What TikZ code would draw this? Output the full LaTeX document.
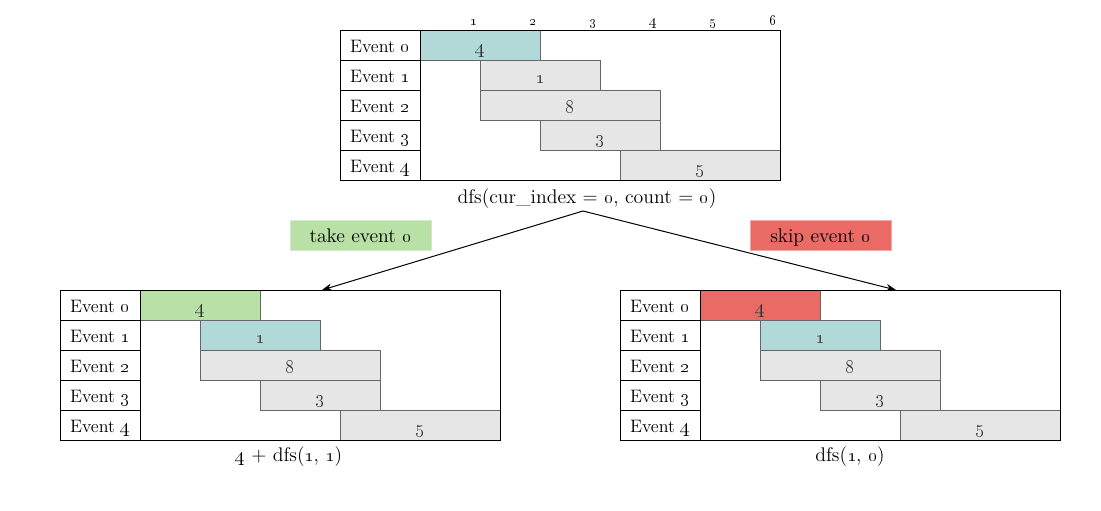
\documentclass[tikz,border=0pt]{standalone}
\usetikzlibrary{arrows.meta}
\definecolor{barteal}{HTML}{B1D9D8}
\definecolor{bargrey}{HTML}{E6E6E6}
\definecolor{barline}{HTML}{666666}
\definecolor{bargreen}{HTML}{B9E0A5}
\definecolor{barred}{HTML}{EA6B66}
\definecolor{numtext}{HTML}{333333}
\definecolor{greenedge}{HTML}{D5E8D4}
\definecolor{rededge}{HTML}{F4A9A6}
\newcommand\osn[1]{\oldstylenums{#1}}
\tikzset{
  frame/.style={draw=black, line width=0.75pt, minimum width=330pt, minimum height=112.5pt, inner sep=0pt},
  labcell/.style={draw=black, line width=0.75pt, fill=white, minimum width=60pt, minimum height=22.5pt,
     inner sep=0pt, text height=11.5pt, text depth=1pt, font=\fontsize{13.5}{15}\selectfont},
  bar/.style={draw=barline, line width=0.75pt, fill=bargrey, minimum height=22.5pt, inner sep=0pt,
     text height=14pt, text depth=1.2pt, text=numtext, font=\fontsize{15.5}{17}\selectfont},
  tick/.style={anchor=base, font=\fontsize{11}{12}\selectfont},
  caption/.style={anchor=base, font=\fontsize{14.8}{17}\selectfont},
  tag/.style={line width=0.75pt, minimum width=105.75pt, minimum height=22.5pt, inner sep=0pt,
     text height=11.5pt, text depth=1pt, font=\fontsize{14.8}{17}\selectfont},
  link/.style={draw=black, line width=0.75pt, -{Stealth[length=7.5pt, width=5.5pt]}}
}
\newcommand\evtable[4]{%
  \begin{scope}[shift={#2}, name prefix=#1-]
    \node[bar, fill=#3, minimum width=90pt]  (b0) at (480,45)  {\osn{4}};
    \node[bar, fill=#4, minimum width=90pt]  (b1) at (540,75)  {\osn{1}};
    \node[bar, minimum width=135pt] (b2) at (570,105) {\osn{8}};
    \node[bar, minimum width=90pt]  (b3) at (600,135) {\osn{3}};
    \node[bar, minimum width=120pt] (b4) at (700,165) {\osn{5}};
    \node[frame] (frame) at (560,105) {};
    \node[labcell] (l0) at (380,45)  {Event \osn{0}};
    \node[labcell] (l1) at (380,75)  {Event \osn{1}};
    \node[labcell] (l2) at (380,105) {Event \osn{2}};
    \node[labcell] (l3) at (380,135) {Event \osn{3}};
    \node[labcell] (l4) at (380,165) {Event \osn{4}};
  \end{scope}}
\begin{document}
\begin{tikzpicture}[x=0.75pt, y=-0.75pt]
  \useasboundingbox[fill=white] (0,0) rectangle (1101,511);
  % top table
  \evtable{T}{(0,0)}{barteal}{bargrey}
  \node[tick] (t1) at (474,25) {\osn{1}};
  \node[tick] (t2) at (533,25) {\osn{2}};
  \node[tick] (t3) at (593,25) {\osn{3}};
  \node[tick] (t4) at (653,25) {\osn{4}};
  \node[tick] (t5) at (713,25) {\osn{5}};
  \node[tick] (t6) at (773,25) {\osn{6}};
  \node[caption] (topcap) at (587,203) {dfs(cur\_index = \osn{0}, count = \osn{0})};
  % children
  \evtable{L}{(-280,260)}{bargreen}{barteal}
  \evtable{R}{(280,260)}{barred}{barteal}
  \node[caption] (leftcap) at (289,461) {\osn{4} + dfs(\osn{1}, \osn{1})};
  \node[caption] (rightcap) at (850,461) {dfs(\osn{1}, \osn{0})};
  % tags
  \node[tag, fill=bargreen, draw=greenedge] (take) at (360.5,235) {take event \osn{0}};
  \node[tag, fill=barred, draw=rededge] (skip) at (820.5,235) {skip event \osn{0}};
  % connectors
  \coordinate (split) at (583,211);
  \coordinate (ltip) at (322,290);
  \coordinate (rtip) at (896,290);
  \draw[link] (split) -- (ltip);
  \draw[link] (split) -- (rtip);
\end{tikzpicture}
\end{document}
